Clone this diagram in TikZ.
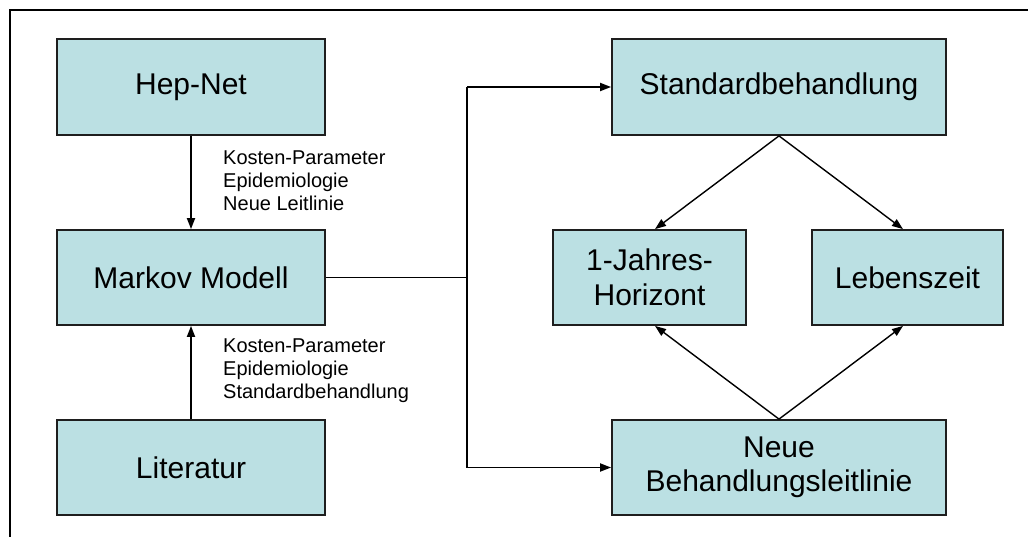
\documentclass[tikz,border=0pt]{standalone}
\usepackage{fontspec}
\setmainfont{Liberation Sans}
\usetikzlibrary{arrows.meta,calc}
\definecolor{boxfill}{HTML}{BBE0E3}
\definecolor{boxline}{HTML}{1E1E1E}
\begin{document}
\begin{tikzpicture}[x=1pt,y=-1pt,
  box/.style={draw=boxline,line width=1.8pt,fill=boxfill,minimum height=95pt,
    inner sep=0pt,align=center,font=\fontsize{30}{34.5}\selectfont},
  lbl/.style={align=left,anchor=west,inner sep=0pt,font=\fontsize{20}{23}\selectfont},
  conn/.style={line width=1.8pt,draw=black},
  arr/.style={conn,-{Triangle[length=11pt,width=8pt]}},
  thinarr/.style={line width=1.4pt,draw=black,-{Triangle[length=11pt,width=8pt]}}]
\useasboundingbox (0,0) rectangle (1028,536);
\draw[line width=1.8pt] (10,537) -- (10,10) -- (1029,10);

\node[box,minimum width=268pt,minimum height=96pt] (hep) at (191,87) {Hep-Net};
\node[box,minimum width=268pt] (markov) at (191,277.5) {Markov Modell};
\node[box,minimum width=268pt] (lit) at (191,467.5) {Literatur};
\node[box,minimum width=334pt,minimum height=96pt] (std) at (779,87) {Standardbehandlung};
\node[box,minimum width=193pt] (jahr) at (649.5,277.5) {1-Jahres-\\Horizont};
\node[box,minimum width=191pt] (leb) at (907.5,277.5) {Lebenszeit};
\node[box,minimum width=334pt] (neue) at (779,467.5) {Neue\\Behandlungsleitlinie};

\node[lbl] (l1) at (223,181) {Kosten-Parameter\\Epidemiologie\\Neue Leitlinie};
\node[lbl] (l2) at (223,370.5) {Kosten-Parameter\\Epidemiologie\\Standardbehandlung};

\draw[arr] (hep.south) -- (markov.north);
\draw[arr] (lit.north) -- (markov.south);

\coordinate (jt) at (467,87);
\coordinate (jb) at (467,467.5);
\coordinate (j) at (markov.east -| jt);
\draw[conn] (markov.east) -- (j);
\draw[conn] (jt) -- (jb);
\draw[arr] (jt) -- (std.west);
\draw[arr] (jb) -- (neue.west);

\draw[thinarr] (std.south) -- ([xshift=5.5pt]jahr.north);
\draw[thinarr] (std.south) -- ([xshift=-4.5pt]leb.north);
\draw[thinarr] (neue.north) -- ([xshift=5.5pt]jahr.south);
\draw[thinarr] (neue.north) -- ([xshift=-4.5pt]leb.south);
\end{tikzpicture}
\end{document}
